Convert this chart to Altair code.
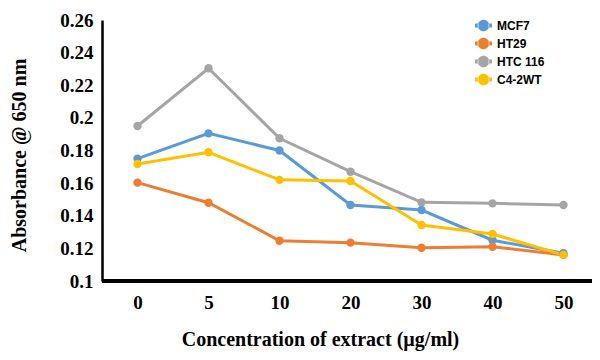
import altair as alt
import pandas as pd

concentrations = ["0", "5", "10", "20", "30", "40", "50"]
series_names = ["MCF7", "HT29", "HTC 116", "C4-2WT"]
mcf7 = [0.175, 0.1905, 0.180, 0.1466, 0.1435, 0.125, 0.117]
ht29 = [0.1603, 0.148, 0.1247, 0.1235, 0.1204, 0.121, 0.116]
htc116 = [0.195, 0.2304, 0.1875, 0.167, 0.1482, 0.1476, 0.1466]
c42wt = [0.1717, 0.1789, 0.162, 0.1613, 0.1343, 0.1288, 0.116]
colors = ["#5B9BD5", "#ED7D31", "#A5A5A5", "#FFC000"]

rows = []
for name, vals in zip(series_names, [mcf7, ht29, htc116, c42wt]):
    for c, v in zip(concentrations, vals):
        rows.append({"conc": c, "value": v, "series": name})
df = pd.DataFrame(rows)

FONT = "Liberation Serif"
W, H = 490, 261
legend_symbol = ("M-1,-0.23H-0.6V0.23H-1Z M0.6,-0.23H1V0.23H0.6Z "
                 "M-0.68,0A0.68,0.68 0 1,0 0.68,0A0.68,0.68 0 1,0 -0.68,0Z")

x_enc = alt.X("conc:N", sort=concentrations,
              scale=alt.Scale(type="point", padding=0, range=[35.5, 461.5]),
              axis=alt.Axis(title="Concentration of extract (\u00b5g/ml)", labelAngle=0,
                            ticks=False, domain=False,
                            labelFont=FONT, labelFontWeight="bold", labelFontSize=19,
                            labelColor="black", labelPadding=12,
                            titleFont=FONT, titleFontWeight="bold", titleFontSize=20,
                            titleColor="black", titlePadding=17, titleX=218,
                            titleAlign="center", grid=False))
y_enc = alt.Y("value:Q", scale=alt.Scale(domain=[0.1, 0.26], nice=False, zero=False),
              axis=alt.Axis(title="Absorbance @ 650 nm", values=[0.1, 0.12, 0.14, 0.16, 0.18, 0.2, 0.22, 0.24, 0.26],
                            format=".2~f", ticks=False, domainColor="black", domainWidth=2.5,
                            labelFont=FONT, labelFontWeight="bold", labelFontSize=19,
                            labelColor="black", labelPadding=9,
                            titleFont=FONT, titleFontWeight="bold", titleFontSize=20,
                            titleColor="black", titlePadding=30, titleY=135,
                            titleAlign="center", grid=False))
legend = alt.Legend(title=None, orient="none", legendX=373, legendY=-3,
                    symbolType=legend_symbol, symbolSize=289,
                    symbolStrokeWidth=0, symbolOpacity=1, rowPadding=3,
                    labelFont="Liberation Sans", labelFontWeight="bold",
                    labelFontSize=12, labelColor="black", labelOffset=5)
color_enc = alt.Color("series:N", scale=alt.Scale(domain=series_names, range=colors),
                      sort=series_names, legend=legend)

x_axis_line = alt.Chart(df).mark_rule(color="black", strokeWidth=2.5).encode(
    x=alt.value(0), x2=alt.value(W), y=alt.value(H),
)
lines = alt.Chart(df).mark_line(strokeWidth=3).encode(
    x=x_enc, y=y_enc, color=color_enc,
)
points = alt.Chart(df).mark_circle(size=70, opacity=1).encode(
    x=x_enc, y=y_enc, color=color_enc,
)

chart = (x_axis_line + lines + points).properties(
    width=W, height=H,
    padding={"left": 94, "top": 12, "right": 0, "bottom": 72},
    autosize=alt.AutoSizeParams(type="none"),
).configure_view(stroke=None)

chart.save("out.html", embed_options={"renderer": "svg", "actions": False})
